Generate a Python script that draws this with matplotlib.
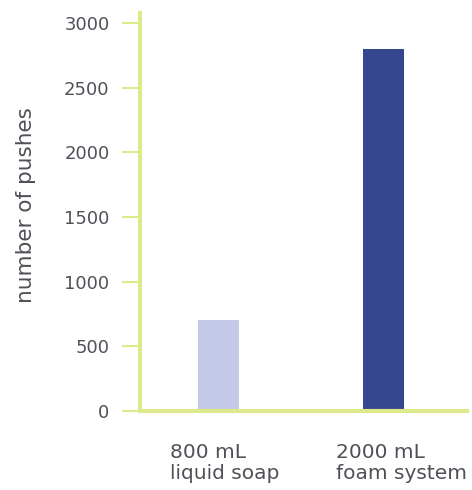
import numpy as np
import matplotlib.pyplot as plt

categories = ["800 mL\nliquid soap", "2000 mL\nfoam system"]
pushes = [700, 2800]
yticks = [0, 500, 1000, 1500, 2000, 2500, 3000]

bar_colors = ["#c3c9e6", "#34468e"]
axis_green = "#dde98c"
text_grey = "#505058"

fig = plt.figure(figsize=(4.72, 4.90), dpi=100)
ax = fig.add_axes([0.2966, 0.1612, 0.6924, 0.8123])

x = np.arange(len(categories))
ax.bar(x, pushes, width=0.248, color=bar_colors, zorder=1)

ax.set_xlim(-0.474, 1.502)
ax.set_ylim(0, 3077)
ax.set_yticks(yticks)
ax.set_yticklabels([str(t) for t in yticks], fontsize=13, color=text_grey)
ax.set_xticks([])

for side in ["top", "right"]:
    ax.spines[side].set_visible(False)
for side in ["left", "bottom"]:
    ax.spines[side].set_color(axis_green)
    ax.spines[side].set_linewidth(3)
    ax.spines[side].set_zorder(3)

ax.tick_params(axis="y", length=13, width=1.5, color=axis_green, pad=9)

# category labels sit left-aligned under each bar
for xi, lab in zip(x, categories):
    ax.text(xi - 0.29, -0.08, lab, transform=ax.get_xaxis_transform(),
            ha="left", va="top", fontsize=14.5, color=text_grey, linespacing=1.15)

ax.set_ylabel("number of pushes", fontsize=15.5, color=text_grey, labelpad=20)
ax.yaxis.label.set_y(0.518)

plt.savefig("out.png")
